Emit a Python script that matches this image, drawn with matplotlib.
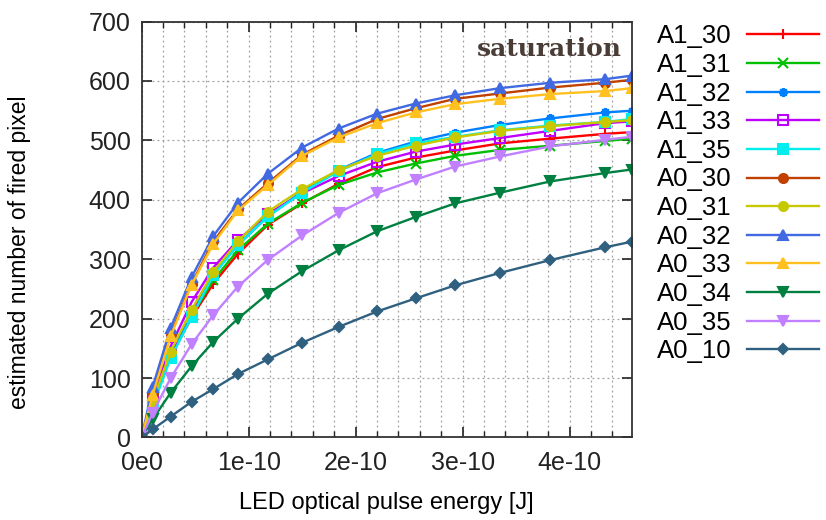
import numpy as np
import matplotlib.pyplot as plt
from matplotlib.ticker import MultipleLocator, FuncFormatter

# LED pulse energy, units of 1e-10 J
energy = [0, 0.103, 0.27, 0.467, 0.67, 0.90, 1.18, 1.50, 1.84, 2.20, 2.56, 2.93, 3.35, 3.82, 4.33, 4.58]

labels = ['A1_30', 'A1_31', 'A1_32', 'A1_33', 'A1_35', 'A0_30',
          'A0_31', 'A0_32', 'A0_33', 'A0_34', 'A0_35', 'A0_10']

a1_30 = [0, 55, 136, 202, 259, 309, 358, 394, 427, 455, 471, 483, 495, 503, 511, 514]
a1_31 = [0, 55, 138, 205, 265, 315, 360, 395, 425, 446, 461, 474, 484, 491, 499, 503]
a1_32 = [0, 58, 139, 209, 276, 324, 372, 414, 450, 479, 498, 513, 526, 537, 547, 550]
a1_33 = [0, 66, 153, 228, 286, 332, 376, 411, 440, 464, 481, 493, 504, 516, 529, 532]
a1_35 = [0, 52, 133, 203, 273, 324, 372, 412, 448, 477, 495, 506, 517, 525, 531, 536]
a0_30 = [0, 75, 174, 259, 330, 384, 428, 476, 508, 536, 554, 570, 579, 589, 597, 602]
a0_31 = [0, 62, 144, 215, 279, 330, 380, 418, 450, 474, 491, 505, 516, 524, 531, 534]
a0_32 = [0, 85, 184, 270, 339, 395, 444, 488, 520, 545, 562, 576, 588, 597, 603, 609]
a0_33 = [0, 72, 170, 257, 326, 382, 425, 474, 505, 529, 547, 561, 570, 578, 583, 588]
a0_34 = [0, 30.5, 75, 120, 161, 200, 242, 280, 315, 347, 371, 394, 412, 431, 445, 451]
a0_35 = [0, 41.5, 99.5, 157, 206, 254, 299, 340, 378, 411, 434, 456, 473, 490, 501, 506]
a0_10 = [0, 13.6, 35, 60, 81.5, 106.7, 131.5, 159.4, 186, 212, 234, 256, 277, 298.6, 320, 329.5]

series = [a1_30, a1_31, a1_32, a1_33, a1_35, a0_30, a0_31, a0_32, a0_33, a0_34, a0_35, a0_10]

# gnuplot-like default palette and point types
colors = ['#ff0000', '#00c000', '#0080ff', '#c000ff', '#00eeee', '#c04000',
          '#c8c800', '#4169e1', '#ffc020', '#008040', '#c080ff', '#306080']
markers = ['+', 'x', (8, 2, 0), 's', 's', 'o', 'o', '^', '^', 'v', 'v', 'D']
open_marker = [False, False, False, True, False, False, False, False, False, False, False, False]

plt.rcParams['font.family'] = ['Liberation Sans', 'DejaVu Sans']

fig = plt.figure(figsize=(8.26, 5.2), dpi=100)
ax = fig.add_axes([0.1715, 0.1588, 0.5933, 0.7997])

for y, lab, c, m, op in zip(series, labels, colors, markers, open_marker):
    ms = 5 if m == 'D' else 6.5
    ax.plot(energy, y, color=c, lw=1.7, marker=m, ms=ms, mew=1.5,
            mfc='none' if op else c, mec=c, label=lab)

ax.set_xlim(0, 4.58)
ax.set_ylim(0, 700)
ax.xaxis.set_major_locator(MultipleLocator(1))
ax.xaxis.set_minor_locator(MultipleLocator(0.2))
ax.yaxis.set_major_locator(MultipleLocator(100))
ax.xaxis.set_major_formatter(FuncFormatter(lambda v, p: '0e0' if v == 0 else '%de-10' % round(v)))

ax.grid(which='both', axis='x', color='#a0a0a0', ls=(0, (1.5, 2.5)), lw=0.9)
ax.grid(which='major', axis='y', color='#a0a0a0', ls=(0, (1.5, 2.5)), lw=0.9)

ax.tick_params(which='both', direction='in', top=True, right=True, labelsize=18, colors='#222222')
ax.tick_params(which='major', length=7, width=1.2)
ax.tick_params(which='minor', length=4, width=1)
ax.tick_params(axis='x', pad=10)
ax.tick_params(axis='y', pad=8)
for s in ax.spines.values():
    s.set_color('#333333')
    s.set_linewidth(1.3)

ax.set_xlabel('LED optical pulse energy [J]', fontsize=17, labelpad=12)
ax.set_ylabel('estimated number of fired pixel', fontsize=16.5)
ax.yaxis.set_label_coords(-0.226, 0.446)

ax.text(0.98, 0.935, 'saturation', transform=ax.transAxes, ha='right', va='center',
        fontsize=18, family='DejaVu Serif', fontweight='bold', color='#4a3c36')

ax.legend(loc='upper left', bbox_to_anchor=(1.03, 1.018), frameon=False, markerfirst=False,
          fontsize=18.5, handlelength=2.8, handletextpad=0.6, labelspacing=0.18, borderaxespad=0.0)

fig.savefig('out.png', dpi=100)
